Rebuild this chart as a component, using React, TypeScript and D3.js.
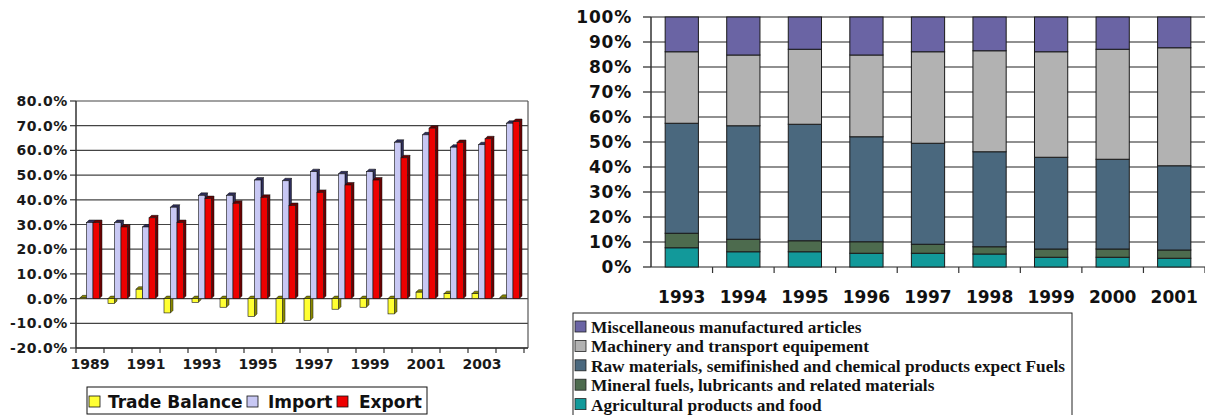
import React from "react";
import * as d3 from "d3";

// ---------- Left chart data ----------
const leftYears = ["1989","1990","1991","1992","1993","1994","1995","1996","1997","1998","1999","2000","2001","2002","2003","2004"];
const tradeBalance = [0.3,-2.0,3.8,-5.8,-1.5,-3.5,-7.2,-10.0,-8.8,-4.3,-3.5,-6.2,2.6,2.0,2.0,0.5];
const importVals = [30.8,30.8,29.0,37.0,41.8,41.8,48.0,47.7,51.4,50.5,51.4,63.3,66.3,61.3,62.3,71.0];
const exportVals = [30.8,29.0,32.7,30.8,40.5,38.6,41.0,37.7,43.0,46.0,48.0,57.0,69.0,63.2,64.7,71.7];
const leftTicks = [-20,-10,0,10,20,30,40,50,60,70,80];
const leftTickLabelYears = ["1989","1991","1993","1995","1997","1999","2001","2003"];
const leftSeriesNames = ["Trade Balance","Import","Export"];

// ---------- Right chart data ----------
const rightYears = ["1993","1994","1995","1996","1997","1998","1999","2000","2001"];
const agri = [7.7,6.1,6.1,5.5,5.5,5.2,3.9,3.9,3.5];
const mineral = [5.8,5.0,4.4,4.6,3.6,2.9,3.3,3.3,3.3];
const rawMat = [44.0,45.4,46.6,42.0,40.4,38.0,36.7,35.9,33.7];
const machinery = [28.6,28.3,30.0,32.7,36.6,40.4,42.2,44.0,47.2];
const misc = [13.9,15.2,12.9,15.2,13.9,13.5,13.9,12.9,12.3];
const rightTicks = [0,10,20,30,40,50,60,70,80,90,100];
const rightSeriesNames = [
  "Agricultural products and food",
  "Mineral fuels, lubricants and related materials",
  "Raw materials, semifinished and chemical products expect Fuels",
  "Machinery and transport equipement",
  "Miscellaneous manufactured articles",
];

const leftColors = { front: ["#FFFF33", "#C8C8F4", "#EE0000"], depth: ["#8A8A00", "#2E2E5C", "#6A0000"] };
const rightColors = ["#12999A", "#4D6B4E", "#4A687E", "#B2B2B2", "#6A64A4"];

const sansBold = "'DejaVu Sans', Verdana, sans-serif";

function LeftChart() {
  const y = d3.scaleLinear().domain([-20, 80]).range([348, 101]);
  const x = d3.scaleBand().domain(leftYears).range([76, 524]);
  const barW = 6.5;
  const depth = 2.5;
  const series = [tradeBalance, importVals, exportVals];
  const plotL = 76, plotR = 528, plotT = y(80), plotB = y(-20);

  const bars: React.ReactNode[] = [];
  leftYears.forEach((yr, i) => {
    const b = x(yr)!;
    series.forEach((vals, s) => {
      const v = vals[i];
      const x0 = b + 4 + s * barW;
      const yTop = y(Math.max(v, 0));
      const yBot = y(Math.min(v, 0));
      const top = `${x0},${yTop} ${x0 + depth},${yTop - depth} ${x0 + barW + depth},${yTop - depth} ${x0 + barW},${yTop}`;
      const side = `${x0 + barW},${yTop} ${x0 + barW + depth},${yTop - depth} ${x0 + barW + depth},${yBot - depth} ${x0 + barW},${yBot}`;
      bars.push(
        <g key={`${yr}-${s}`}>
          <polygon points={side} fill={leftColors.depth[s]} stroke="#111" strokeWidth={0.5} />
          <polygon points={top} fill={leftColors.depth[s]} stroke="#111" strokeWidth={0.5} />
          <rect x={x0} y={yTop} width={barW} height={Math.max(0.8, yBot - yTop)} fill={leftColors.front[s]} stroke="#111" strokeWidth={0.6} />
        </g>
      );
    });
  });

  return (
    <g>
      {leftTicks.map((t) => (
        <g key={t}>
          <line x1={plotL} x2={plotR} y1={y(t)} y2={y(t)} stroke="#444" strokeWidth={1.2} />
          <line x1={plotL - 6} x2={plotL} y1={y(t)} y2={y(t)} stroke="#333" strokeWidth={1.2} />
          <text x={68} y={y(t)} dy="0.36em" textAnchor="end" fontFamily={sansBold} fontWeight="bold" fontSize={14} letterSpacing={0.6} fill="#1a1a1a">
            {t.toFixed(1) + "%"}
          </text>
        </g>
      ))}
      <line x1={plotL} x2={plotL} y1={plotT} y2={plotB} stroke="#333" strokeWidth={1.5} />
      <line x1={plotR} x2={plotR} y1={plotT} y2={plotB} stroke="#555" strokeWidth={1.2} />
      <line x1={plotL} x2={plotR} y1={plotB} y2={plotB} stroke="#333" strokeWidth={1.5} />
      {leftYears.map((yr) => (
        <line key={yr} x1={x(yr)!} x2={x(yr)!} y1={plotB} y2={plotB + 5} stroke="#333" strokeWidth={1.2} />
      ))}
      <line x1={524} x2={524} y1={plotB} y2={plotB + 5} stroke="#333" strokeWidth={1.2} />
      {bars}
      {leftTickLabelYears.map((yr) => (
        <text key={yr} x={x(yr)! + x.bandwidth() / 2} y={369} textAnchor="middle" fontFamily={sansBold} fontWeight="bold" fontSize={14} fill="#1a1a1a">
          {yr}
        </text>
      ))}
      {/* legend */}
      <rect x={87} y={387} width={340} height={27} fill="#fff" stroke="#111" strokeWidth={1} />
      {[
        { sx: 89, tx: 108 },
        { sx: 247, tx: 268 },
        { sx: 337, tx: 359 },
      ].map((p, s) => (
        <g key={s}>
          <rect x={p.sx} y={396} width={11} height={11} fill={leftColors.front[s]} stroke="#111" strokeWidth={0.8} />
          <text x={p.tx} y={408} fontFamily={sansBold} fontWeight="bold" fontSize={17} fill="#111">
            {leftSeriesNames[s]}
          </text>
        </g>
      ))}
    </g>
  );
}

function RightChart() {
  const y = d3.scaleLinear().domain([0, 100]).range([267, 17]);
  const x = d3.scaleBand().domain(rightYears).range([651, 1205]).paddingInner(0.46).paddingOuter(0.23);
  const rows = rightYears.map((yr, i) => ({ yr, s0: agri[i], s1: mineral[i], s2: rawMat[i], s3: machinery[i], s4: misc[i] }));
  const stack = d3.stack<any>().keys(["s0", "s1", "s2", "s3", "s4"]);
  const layers = stack(rows);
  const step = x.step();

  return (
    <g>
      {rightTicks.map((t) => (
        <g key={t}>
          <line x1={651} x2={1205} y1={y(t)} y2={y(t)} stroke="#222" strokeWidth={1.2} />
          <line x1={643} x2={651} y1={y(t)} y2={y(t)} stroke="#222" strokeWidth={1.2} />
          <text x={632} y={y(t)} dy="0.36em" textAnchor="end" fontFamily={sansBold} fontWeight="bold" fontSize={17} letterSpacing={0.8} fill="#111">
            {t + "%"}
          </text>
        </g>
      ))}
      <line x1={651} x2={651} y1={y(100)} y2={y(0)} stroke="#333" strokeWidth={1.5} />
      {rightYears.map((yr, i) => (
        <line key={yr} x1={651 + (i + 1) * step} x2={651 + (i + 1) * step} y1={y(0)} y2={y(0) + 6} stroke="#333" strokeWidth={1.2} />
      ))}
      {layers.map((layer, li) =>
        layer.map((d, i) => (
          <rect
            key={`${li}-${i}`}
            x={x(rightYears[i])!}
            y={y(d[1])}
            width={x.bandwidth()}
            height={y(d[0]) - y(d[1])}
            fill={rightColors[li]}
            stroke="#1a1a1a"
            strokeWidth={1}
          />
        ))
      )}
      {rightYears.map((yr) => (
        <text key={yr} x={x(yr)! + x.bandwidth() / 2} y={303} textAnchor="middle" fontFamily={sansBold} fontWeight="bold" fontSize={17} fill="#111">
          {yr}
        </text>
      ))}
      {/* legend */}
      <rect x={573} y={313} width={499} height={110} fill="#fff" stroke="#222" strokeWidth={1} />
      {[4, 3, 2, 1, 0].map((si, row) => {
        const base = 333 + row * 19.4;
        return (
          <g key={si}>
            <rect x={575} y={base - 12} width={11} height={11} fill={rightColors[si]} stroke="#222" strokeWidth={0.8} />
            <text x={591} y={base} fontFamily="'Liberation Serif', 'Times New Roman', serif" fontWeight="bold" fontSize={17.3} fill="#111">
              {rightSeriesNames[si]}
            </text>
          </g>
        );
      })}
    </g>
  );
}

export default function App() {
  return (
    <svg width={1205} height={415} style={{ position: "absolute", left: 0, top: 0, background: "#fff" }}>
      <rect x={0} y={0} width={1205} height={415} fill="#fff" />
      <LeftChart />
      <RightChart />
    </svg>
  );
}
